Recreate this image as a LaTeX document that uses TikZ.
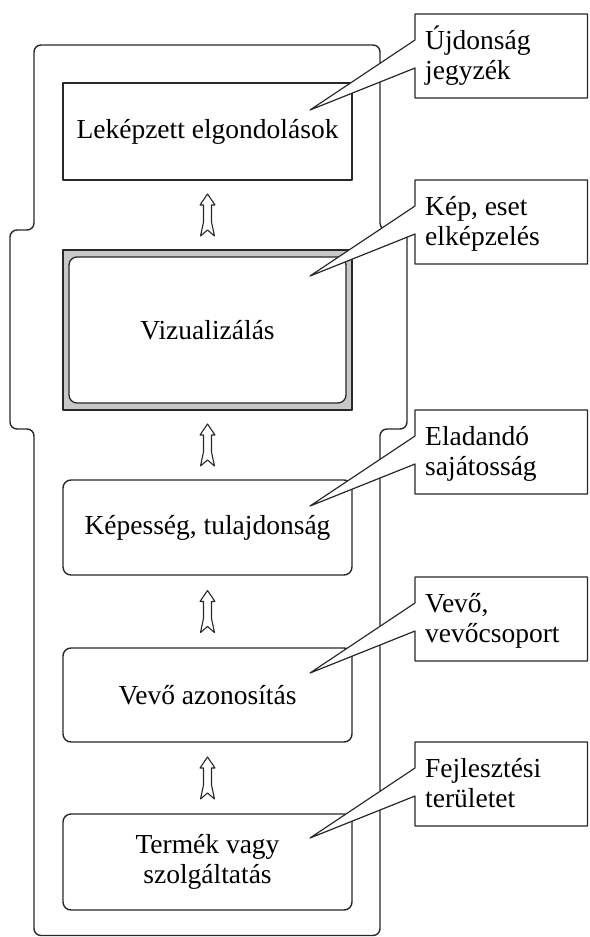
\documentclass[tikz,border=0pt]{standalone}
\usepackage{fontspec}
\setmainfont{Liberation Serif}
\usetikzlibrary{calc}
\definecolor{ink}{RGB}{40,40,40}
\definecolor{panelgray}{RGB}{200,200,200}

\tikzset{
  uparrow/.pic={
    \path[hollow] (0,-21) -- (7.5,-10) -- (4,-10) -- (4,7) -- (7,21) -- (0,15)
      -- (-7,21) -- (-4,7) -- (-4,-10) -- (-7.5,-10) -- cycle;
  }
}

\begin{document}
\begin{tikzpicture}[x=1pt,y=-1pt,line join=round,
  every node/.style={font=\fontsize{27.5}{30}\selectfont},
  outline/.style={draw=ink,line width=1.4pt},
  stage/.style={outline,fill=white,minimum width=289pt,inner sep=0pt,outer sep=0pt,align=center},
  roundstage/.style={stage,rounded corners=8pt},
  notebox/.style={minimum width=172.5pt,minimum height=84pt,inner sep=0pt,outer sep=0pt,anchor=north west},
  notetext/.style={anchor=north west,inner sep=0pt,align=left},
  notepath/.style={draw=ink,line width=1.2pt,fill=white},
  hollow/.style={draw=ink,line width=1.1pt,fill=white},
  frame/.style={draw=ink,line width=1.4pt,rounded corners=7pt},
]
\useasboundingbox (0,0) rectangle (589,937);

% outer frame with the widened middle section
\draw[frame] (34,45) -- (380,45) -- (380,230) -- (407,230) -- (407,429)
  -- (380,429) -- (380,935.5) -- (34,935.5) -- (34,429) -- (10,429)
  -- (10,230) -- (34,230) -- cycle;

% stages
\node[stage,minimum height=97pt] (b1) at (207.5,131.5) {Leképzett elgondolások};
\node[stage,fill=panelgray,minimum height=160pt] (b2) at (207.5,330) {};
\node[roundstage,minimum width=277pt,minimum height=146pt,line width=1.3pt] (b2i) at (b2.center) {Vizualizálás};
\node[roundstage,minimum height=95pt] (b3) at (207.5,527.5) {Képesség, tulajdonság};
\node[roundstage,minimum height=94pt] (b4) at (207.5,695) {Vevő azonosítás};
\node[roundstage,minimum height=96pt] (b5) at (207.5,862) {Termék vagy\\szolgáltatás};

% hollow arrows between stages
\pic at ($(b1.south)!0.5!(b2.north)$) {uparrow};
\pic at ($(b2.south)!0.5!(b3.north)$) {uparrow};
\pic at ($(b3.south)!0.5!(b4.north)$) {uparrow};
\pic at ($(b4.south)!0.5!(b5.north)$) {uparrow};

% callouts
\foreach \i/\top/\txt in {1/14/{Újdonság\\jegyzék},
                          2/180/{Kép, eset\\elképzelés},
                          3/410/{Eladandó\\sajátosság},
                          4/577/{Vevő,\\vevőcsoport},
                          5/742/{Fejlesztési\\területet}}{
  \node[notebox] (c\i) at (415,\top) {};
  \coordinate (p\i) at (310,\top+96);
  \draw[notepath] (c\i.north west) -- (c\i.north east) -- (c\i.south east)
    -- (c\i.south west) -- ($(c\i.north west)+(0,54)$) -- (p\i)
    -- ($(c\i.north west)+(0,26)$) -- cycle;
  \node[notetext] (t\i) at ($(c\i.north west)+(10,9)$) {\rule{0pt}{26pt}\txt};
}
\end{tikzpicture}
\end{document}
